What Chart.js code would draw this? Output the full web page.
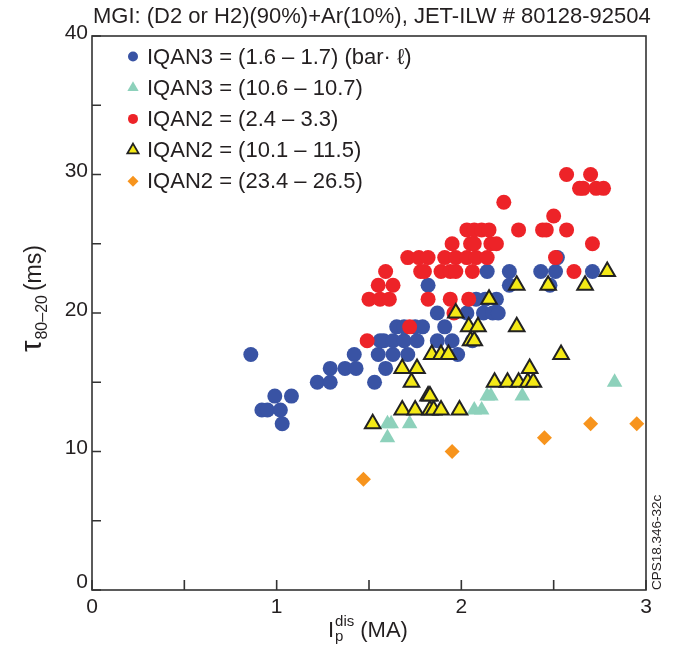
<!DOCTYPE html>
<html>
<head>
<meta charset="utf-8">
<script src="https://cdn.jsdelivr.net/npm/chart.js@4.4.1/dist/chart.umd.min.js"></script>
<style>
  html, body { margin: 0; background: #fff; }
  #wrap { width: 675px; height: 648px; }
</style>
</head>
<body>
<div id="wrap"><canvas id="chart"></canvas></div>
<script>
// ---- data ----
const titleText = 'MGI: (D2 or H2)(90%)+Ar(10%), JET-ILW # 80128-92504';
const seriesLabels = [
    'IQAN3 = (1.6 \u2013 1.7) (bar\u00b7 \u2113)',
    'IQAN3 = (10.6 \u2013 10.7)',
    'IQAN2 = (2.4 \u2013 3.3)',
    'IQAN2 = (10.1 \u2013 11.5)',
    'IQAN2 = (23.4 \u2013 26.5)'
];
const xTicks = [0, 1, 2, 3];
const yTicks = [0, 10, 20, 30, 40];
const xMinorTicks = [0.5, 1.5, 2.5];
const yMinorTicks = [5, 15, 25, 35];

// IQAN3 = 1.6-1.7
const blueX = [0.86, 0.92, 0.95, 0.99, 1.02, 1.03, 1.08, 1.22, 1.29, 1.29, 1.37, 1.42, 1.43, 1.53, 1.55, 1.59,
    1.63, 1.71, 1.56, 1.58, 1.63, 1.69, 1.76, 1.65, 1.69, 1.75, 1.79, 1.82, 1.87, 1.91, 1.87, 1.95, 1.98,
    2.03, 2.12, 2.17, 2.20, 2.08, 2.13, 2.19, 2.06, 2.14, 2.26, 2.26, 2.43, 2.51, 2.48, 2.52, 2.71];
const blueY = [17, 13, 13, 14, 13, 12, 14, 15, 16, 15, 16, 17, 16, 15, 17, 16,
    17, 17, 18, 18, 18, 18, 18, 19, 19, 19, 19, 22, 20, 19, 18, 18, 17,
    20, 20, 20, 20, 21, 21, 21, 18, 23, 23, 22, 23, 23, 22, 24, 23];

// IQAN3 = 10.6-10.7
const tealX = [1.60, 1.60, 1.62, 1.72, 2.07, 2.11, 2.14, 2.16, 2.33, 2.83];
const tealY = [11, 12, 12, 12, 13, 13, 14, 14, 14, 15];

// IQAN2 = 2.4-3.3
const redX = [1.49, 1.50, 1.56, 1.61, 1.55, 1.63, 1.59, 1.72, 1.82, 1.94, 2.04, 1.96, 1.78, 1.80, 1.89, 1.94,
    1.97, 2.06, 1.71, 1.77, 1.82, 1.91, 1.97, 2.03, 2.08, 2.14, 1.95, 2.05, 2.07, 2.16, 2.19, 2.03, 2.07,
    2.11, 2.15, 2.31, 2.23, 2.44, 2.46, 2.57, 2.50, 2.51, 2.61, 2.71, 2.57, 2.70, 2.64, 2.66, 2.73, 2.77];
const redY = [18, 21, 21, 21, 22, 22, 23, 19, 21, 21, 21, 20, 23, 23, 23, 23,
    23, 23, 24, 24, 24, 24, 24, 24, 24, 24, 25, 25, 25, 25, 25, 26, 26,
    26, 26, 26, 28, 26, 26, 26, 27, 24, 23, 25, 30, 30, 29, 29, 29, 29];

// IQAN2 = 10.1-11.5
const yellowX = [1.52, 1.68, 1.75, 1.83, 1.85, 1.89, 1.99, 1.82, 1.83, 1.73, 1.68, 1.76, 1.84, 1.89, 1.93,
    2.05, 2.07, 2.04, 2.09, 1.97, 2.15, 2.30, 2.30, 2.47, 2.67, 2.79, 2.18, 2.25, 2.31, 2.36, 2.39, 2.37, 2.54];
const yellowY = [12, 13, 13, 13, 13, 13, 13, 14, 14, 15, 16, 16, 17, 17, 17,
    18, 18, 19, 19, 20, 21, 19, 22, 22, 22, 23, 15, 15, 15, 15, 15, 16, 17];

// IQAN2 = 23.4-26.5
const orangeX = [1.47, 1.95, 2.45, 2.70, 2.95];
const orangeY = [8, 10, 11, 12, 12];

const toPoints = (xs, ys) => xs.map((x, i) => ({ x: x, y: ys[i] }));

// marker looks, shared by plot and legend
const styles = [
    { shape: 'circle', fill: '#3953a4', stroke: '#3953a4', lw: 0, r: 7.5, lr: 5 },
    { shape: 'triangle', fill: '#8dd1bb', stroke: '#8dd1bb', lw: 0, r: 9, lr: 6.5 },
    { shape: 'circle', fill: '#ed2328', stroke: '#ed2328', lw: 0, r: 7.5, lr: 5 },
    { shape: 'triangle', fill: '#f4e916', stroke: '#222222', lw: 2, r: 9, lr: 6.5 },
    { shape: 'rectRot', fill: '#f7941d', stroke: '#f7941d', lw: 0, r: 7.5, lr: 5.5 }
];

function drawMarker(ctx, s, x, y, r) {
    ctx.beginPath();
    if (s.shape === 'circle') {
        ctx.arc(x, y, r, 0, Math.PI * 2);
    } else if (s.shape === 'triangle') {
        const h = r * Math.sqrt(3) / 2;
        ctx.moveTo(x, y - r);
        ctx.lineTo(x + h, y + r / 2);
        ctx.lineTo(x - h, y + r / 2);
        ctx.closePath();
    } else {
        ctx.moveTo(x, y - r);
        ctx.lineTo(x + r, y);
        ctx.lineTo(x, y + r);
        ctx.lineTo(x - r, y);
        ctx.closePath();
    }
    ctx.fillStyle = s.fill;
    ctx.fill();
    if (s.lw) {
        ctx.lineWidth = s.lw;
        ctx.strokeStyle = s.stroke;
        ctx.lineJoin = 'miter';
        ctx.stroke();
    }
}

// text made of runs with different fonts / baselines
function drawRuns(ctx, runs, x, y) {
    runs.forEach(run => {
        ctx.font = run.font;
        ctx.fillText(run.text, x, y + (run.dy || 0));
        x += ctx.measureText(run.text).width + (run.gap || 0);
    });
}

const FONT = '"Liberation Sans", Arial, sans-serif';

const decorPlugin = {
    id: 'decor',
    afterDatasetsDraw(chart) {
        const ctx = chart.ctx;
        const area = chart.chartArea;
        const xs = chart.scales.x;
        const ys = chart.scales.y;
        ctx.save();

        // frame
        ctx.strokeStyle = '#333333';
        ctx.lineWidth = 1.6;
        ctx.strokeRect(area.left, area.top, area.right - area.left, area.bottom - area.top);

        // inward ticks
        ctx.beginPath();
        xTicks.concat(xMinorTicks).forEach(v => {
            const px = xs.getPixelForValue(v);
            ctx.moveTo(px, area.bottom);
            ctx.lineTo(px, area.bottom - 10);
        });
        yTicks.concat(yMinorTicks).forEach(v => {
            const py = ys.getPixelForValue(v);
            ctx.moveTo(area.left, py);
            ctx.lineTo(area.left + 9, py);
        });
        ctx.stroke();

        // tick labels
        ctx.fillStyle = '#231f20';
        ctx.font = '21px ' + FONT;
        ctx.textAlign = 'center';
        ctx.textBaseline = 'alphabetic';
        xTicks.forEach(v => ctx.fillText(String(v), xs.getPixelForValue(v), area.bottom + 23));
        ctx.textAlign = 'right';
        ctx.textBaseline = 'middle';
        yTicks.forEach(v => {
            const off = v === 0 ? 8 : 3;
            ctx.fillText(String(v), area.left - 4, ys.getPixelForValue(v) - off);
        });

        // title
        ctx.textAlign = 'left';
        ctx.textBaseline = 'alphabetic';
        ctx.font = '22px ' + FONT;
        ctx.fillText(titleText, 93, 23);

        // x axis title: I_p^dis (MA)
        let x0 = 328;
        const by = 637;
        ctx.font = '22px ' + FONT;
        ctx.fillText('I', x0, by);
        x0 += ctx.measureText('I').width + 1;
        ctx.font = '15px ' + FONT;
        ctx.fillText('dis', x0, by - 11);
        ctx.fillText('p', x0, by + 4);
        x0 += ctx.measureText('dis').width + 6;
        ctx.font = '22px ' + FONT;
        ctx.fillText('(MA)', x0, by);

        // y axis title: tau_80-20 (ms)
        ctx.save();
        ctx.translate(41, 352);
        ctx.rotate(-Math.PI / 2);
        drawRuns(ctx, [
            { text: '\u03c4', font: '29px ' + FONT, gap: 1 },
            { text: '80\u201320', font: '16px ' + FONT, dy: 6, gap: 4 },
            { text: '(ms)', font: '23px ' + FONT }
        ], 0, 0);
        ctx.restore();

        // side note
        ctx.save();
        ctx.translate(661, 590);
        ctx.rotate(-Math.PI / 2);
        ctx.font = '13.5px ' + FONT;
        ctx.fillText('CPS18.346-32c', 0, 0);
        ctx.restore();

        // legend inside plot
        seriesLabels.forEach((label, i) => {
            const ly = 56.5 + i * 31.2;
            const s = styles[i];
            drawMarker(ctx, Object.assign({}, s, { lw: s.lw ? 1.8 : 0 }), 133, ly, s.lr);
            ctx.fillStyle = '#231f20';
            ctx.font = '22px ' + FONT;
            ctx.textBaseline = 'middle';
            ctx.fillText(label, 147, ly + 1);
        });

        ctx.restore();
    }
};

const seriesData = [
    toPoints(blueX, blueY),
    toPoints(tealX, tealY),
    toPoints(redX, redY),
    toPoints(yellowX, yellowY),
    toPoints(orangeX, orangeY)
];
const drawOrder = [4, 2, 3, 1, 0];

new Chart(document.getElementById('chart'), {
    type: 'scatter',
    data: {
        datasets: seriesData.map((pts, i) => ({
            label: seriesLabels[i],
            data: pts,
            order: drawOrder[i],
            pointStyle: styles[i].shape,
            pointRadius: styles[i].r,
            pointBackgroundColor: styles[i].fill,
            pointBorderColor: styles[i].stroke,
            pointBorderWidth: styles[i].lw
        }))
    },
    options: {
        responsive: true,
        maintainAspectRatio: false,
        animation: false,
        layout: { padding: { left: 92, right: 29, top: 36, bottom: 58 } },
        scales: {
            x: { type: 'linear', min: 0, max: 3, display: false },
            y: { type: 'linear', min: 0, max: 40, display: false }
        },
        plugins: {
            legend: { display: false },
            tooltip: { enabled: false }
        }
    },
    plugins: [decorPlugin]
});
</script>
</body>
</html>
